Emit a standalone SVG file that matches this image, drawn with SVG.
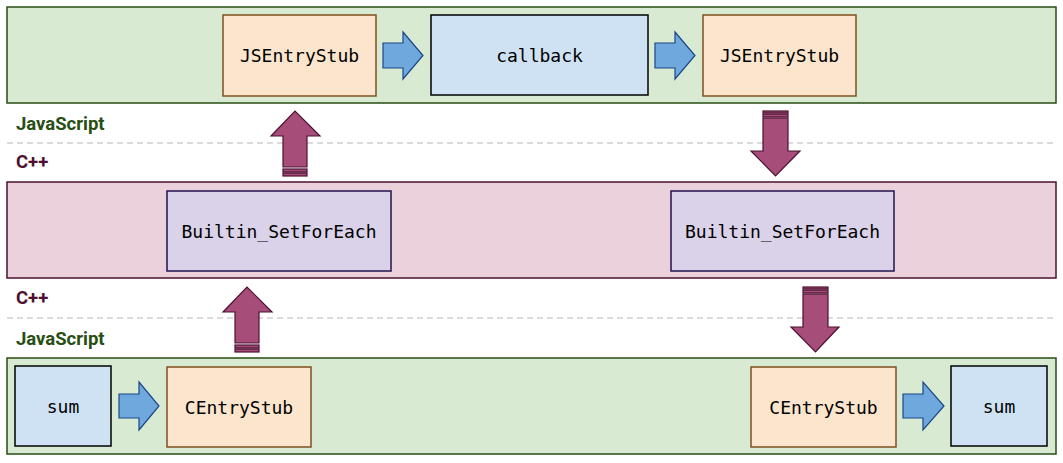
<svg xmlns="http://www.w3.org/2000/svg" width="1063" height="463" viewBox="0 0 1063 463">
<style>
.band-js{fill:#d9ead3;stroke:#274e13;stroke-width:1.5}
.band-cpp{fill:#ead1dc;stroke:#4c1130;stroke-width:1.5}
.stub{fill:#fce5cd;stroke:#7f4f1f;stroke-width:1.5}
.fn{fill:#cfe2f3;stroke:#000;stroke-width:1.5}
.bi{fill:#d9d2e9;stroke:#20124d;stroke-width:1.5}
.t{font-family:"DejaVu Sans Mono","Liberation Mono",monospace;font-size:18px;fill:#000;text-anchor:middle;dominant-baseline:central}
.lbl{font-family:Roboto,"Liberation Sans",sans-serif;font-weight:bold;font-size:18.5px}
.js{fill:#274e13}
.cpp{fill:#4c1130}
.dash{stroke:#b7b7b7;stroke-width:1;stroke-dasharray:6,4;fill:none}
.barrow{fill:#6fa8dc;stroke:#1c4587;stroke-width:1.2}
.parrow{fill:#a64d79;stroke:#4c1130;stroke-width:1.2}
</style>
<rect width="1063" height="463" fill="#fff"/>
<g id="bands">
<rect class="band-js" x="7" y="7" width="1049" height="96"/>
<rect class="band-cpp" x="7" y="182" width="1049" height="96"/>
<rect class="band-js" x="7" y="358" width="1049" height="96"/>
<line class="dash" x1="7" y1="143" x2="1056" y2="143"/>
<line class="dash" x1="7" y1="318" x2="1056" y2="318"/>
<text class="lbl js" x="16" y="130">JavaScript</text>
<text class="lbl cpp" x="16" y="168">C++</text>
<text class="lbl cpp" x="16" y="304">C++</text>
<text class="lbl js" x="16" y="345">JavaScript</text>
</g>
<g id="n-jsentry1"><rect class="stub" x="223" y="15" width="153" height="81"/><text class="t" x="299.5" y="55.5">JSEntryStub</text></g>
<g id="n-callback"><rect class="fn" x="431" y="15" width="217" height="80"/><text class="t" x="539.5" y="55">callback</text></g>
<g id="n-jsentry2"><rect class="stub" x="703" y="15" width="153" height="81"/><text class="t" x="779.5" y="55.5">JSEntryStub</text></g>
<g id="n-builtin1"><rect class="bi" x="167" y="191" width="224" height="80"/><text class="t" x="279" y="231">Builtin_SetForEach</text></g>
<g id="n-builtin2"><rect class="bi" x="671" y="191" width="223" height="80"/><text class="t" x="782.5" y="231">Builtin_SetForEach</text></g>
<g id="n-sum1"><rect class="fn" x="15" y="366" width="96" height="80"/><text class="t" x="63" y="406">sum</text></g>
<g id="n-centry1"><rect class="stub" x="167" y="367" width="144" height="80"/><text class="t" x="239" y="407">CEntryStub</text></g>
<g id="n-centry2"><rect class="stub" x="751" y="367" width="145" height="80"/><text class="t" x="823.5" y="407">CEntryStub</text></g>
<g id="n-sum2"><rect class="fn" x="951" y="366" width="96" height="80"/><text class="t" x="999" y="406">sum</text></g>
<g id="connectors">
<path class="barrow" d="M383,43 H403 V32 L423,55.5 L403,79 V68 H383 Z"/>
<path class="barrow" d="M655,43 H675 V32 L695,55.5 L675,79 V68 H655 Z"/>
<path class="barrow" d="M119,394 H139 V382 L159,406 L139,430 V418 H119 Z"/>
<path class="barrow" d="M903,394 H923 V382 L944,406 L923,430 V418 H903 Z"/>
<path class="parrow" d="M283,167 V136 H271 L295,111 L320,136 H307 V167 Z"/>
<rect class="parrow" x="283" y="169" width="24" height="3"/>
<rect class="parrow" x="283" y="173" width="24" height="3"/>
<path class="parrow" d="M235,343 V312 H223 L247,287 L272,312 H259 V343 Z"/>
<rect class="parrow" x="235" y="345" width="24" height="3"/>
<rect class="parrow" x="235" y="349" width="24" height="3"/>
<rect class="parrow" x="763" y="111" width="25" height="2"/>
<rect class="parrow" x="763" y="114" width="25" height="3"/>
<path class="parrow" d="M763,118 V151 H751 L775.5,176 L800,151 H788 V118 Z"/>
<rect class="parrow" x="803" y="287" width="25" height="2"/>
<rect class="parrow" x="803" y="290" width="25" height="3"/>
<path class="parrow" d="M803,294 V327 H791 L815.5,352 L839,327 H828 V294 Z"/>
</g>
</svg>
